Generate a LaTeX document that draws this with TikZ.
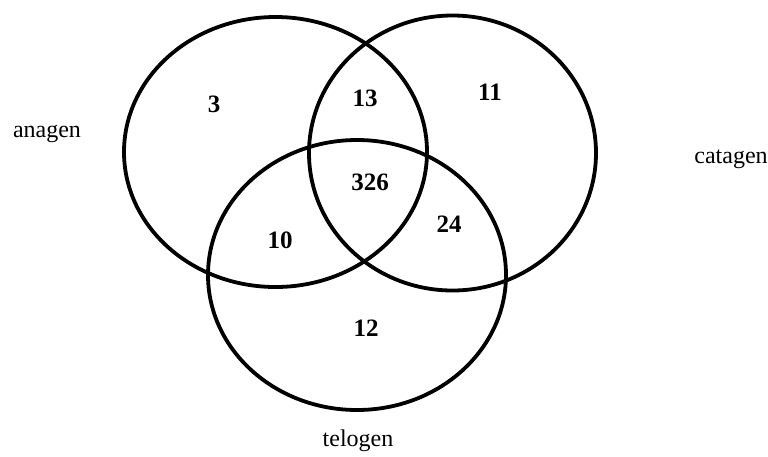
\documentclass[tikz,border=0pt]{standalone}
\usepackage{fontspec}
\setmainfont{Liberation Serif}
\usetikzlibrary{shapes.geometric}
\begin{document}
\begin{tikzpicture}[x=1pt,y=-1pt,
  setshape/.style={draw=black,line width=3.8pt,ellipse,inner sep=0pt,outer sep=0pt},
  num/.style={font=\fontsize{25}{28}\selectfont\bfseries,inner sep=0pt},
  lab/.style={font=\fontsize{24}{28}\selectfont,inner sep=0pt,anchor=base}]
\useasboundingbox (0,0) rectangle (768,456);
\node[setshape,minimum width=303pt,minimum height=270pt] (A) at (275.5,152) {};
\node[setshape,minimum width=287pt,minimum height=275pt] (C) at (452.5,153) {};
\node[setshape,minimum width=298pt,minimum height=270pt] (T) at (357,275) {};
\node[num] (n3) at (214,104) {3};
\node[num] (n13) at (365,98) {13};
\node[num] (n11) at (490,92) {11};
\node[num] (n326) at (370,182) {326};
\node[num] (n10) at (280,240) {10};
\node[num] (n24) at (449,224) {24};
\node[num] (n12) at (366,328) {12};
\node[lab] (la) at (47,137) {anagen};
\node[lab] (lc) at (731,163) {catagen};
\node[lab] (lt) at (358,446) {telogen};
\end{tikzpicture}
\end{document}
